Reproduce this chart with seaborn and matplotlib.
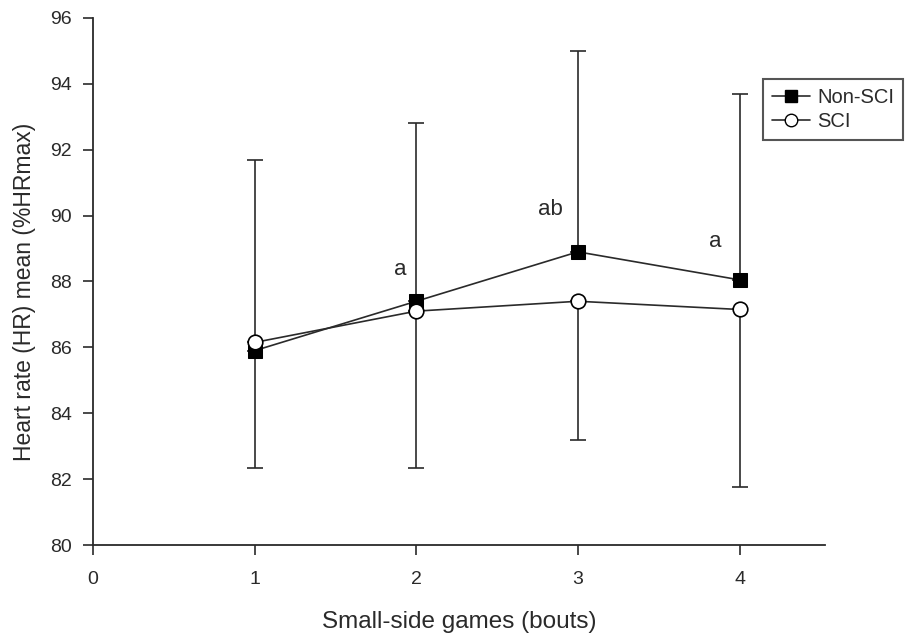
import matplotlib
matplotlib.use("Agg")
import matplotlib.pyplot as plt
import seaborn as sns
import pandas as pd
from matplotlib.lines import Line2D

# Bout number and heart-rate means (%HRmax) per group
bouts = [1, 2, 3, 4]
non_sci_mean = [85.9, 87.4, 88.9, 88.05]
sci_mean = [86.15, 87.1, 87.4, 87.15]
# Standard deviations: drawn upward for Non-SCI, downward for SCI
non_sci_sd = [5.8, 5.4, 6.1, 5.65]
sci_sd = [3.8, 4.75, 4.2, 5.4]
# Significance letters above the Non-SCI points
sig_labels = ["", "a", "ab", "a"]
groups = ["Non-SCI", "SCI"]

df = pd.DataFrame({
    "bout": bouts * 2,
    "hr": non_sci_mean + sci_mean,
    "group": [groups[0]] * 4 + [groups[1]] * 4,
})

sns.set_style("ticks")
plt.rcParams["font.family"] = ["Liberation Sans", "DejaVu Sans"]

INK = "#2a2a2a"

fig = plt.figure(figsize=(9.2, 6.35), dpi=100)
ax = fig.add_axes([0.101, 0.1417, 0.796, 0.83])

# One-sided error bars: centre each bar on the half-way point so caps sit only at the far end
up_mid = [m + s / 2 for m, s in zip(non_sci_mean, non_sci_sd)]
up_half = [s / 2 for s in non_sci_sd]
dn_mid = [m - s / 2 for m, s in zip(sci_mean, sci_sd)]
dn_half = [s / 2 for s in sci_sd]
ax.errorbar(bouts, up_mid, yerr=up_half, fmt="none", ecolor=INK,
            elinewidth=1.2, capsize=6, capthick=1.2, zorder=1)
ax.errorbar(bouts, dn_mid, yerr=dn_half, fmt="none", ecolor=INK,
            elinewidth=1.2, capsize=6, capthick=1.2, zorder=1)

sns.lineplot(data=df, x="bout", y="hr", hue="group", style="group",
             markers={"Non-SCI": "s", "SCI": "o"}, dashes=False,
             palette={"Non-SCI": INK, "SCI": INK},
             linewidth=1.2, ax=ax, legend=False, zorder=3)

# Marker styling: filled squares, hollow circles
for ln in ax.get_lines():
    if ln.get_marker() == "s":
        ln.set_markerfacecolor("black")
        ln.set_markeredgecolor("black")
        ln.set_markersize(9.5)
    elif ln.get_marker() == "o":
        ln.set_markerfacecolor("white")
        ln.set_markeredgecolor("black")
        ln.set_markeredgewidth(1.2)
        ln.set_markersize(10.5)

# Significance letters
label_pos = [(1.0, 0), (1.9, 88.35), (2.83, 90.2), (3.85, 89.22)]
for (lx, ly), txt in zip(label_pos, sig_labels):
    if txt:
        ax.text(lx, ly, txt, fontsize=16, ha="center", va="center", color=INK)

ax.set_xlim(0, 4.53)
ax.set_ylim(80, 96)
ax.set_xticks([0, 1, 2, 3, 4])
ax.set_yticks(range(80, 97, 2))
ax.tick_params(axis="both", labelsize=14, length=7, width=1.2, color=INK,
               labelcolor=INK, direction="out")
ax.tick_params(axis="x", pad=12)
ax.tick_params(axis="y", pad=8)
for side in ["top", "right"]:
    ax.spines[side].set_visible(False)
for side in ["left", "bottom"]:
    ax.spines[side].set_linewidth(1.3)
    ax.spines[side].set_color(INK)

ax.set_xlabel("Small-side games (bouts)", fontsize=17.5, color=INK, labelpad=16)
ax.set_ylabel("Heart rate (HR) mean (%HRmax)", fontsize=16.5, color=INK)
ax.yaxis.set_label_coords(-0.078, 0.48)

# Legend
handles = [
    Line2D([], [], color=INK, lw=1.2, marker="s", markersize=8,
           markerfacecolor="black", markeredgecolor="black"),
    Line2D([], [], color=INK, lw=1.2, marker="o", markersize=9,
           markerfacecolor="white", markeredgecolor="black"),
]
leg = fig.legend(handles, groups, loc="upper left",
                 bbox_to_anchor=(763 / 920, 1 - 79 / 635), fontsize=14.5,
                 frameon=True, fancybox=False, handlelength=1.9,
                 borderpad=0.45, labelspacing=0.25, handletextpad=0.35,
                 borderaxespad=0)
leg.get_frame().set_edgecolor(INK)
leg.get_frame().set_linewidth(1.5)
for t in leg.get_texts():
    t.set_color(INK)

fig.savefig("out.png", dpi=100)
